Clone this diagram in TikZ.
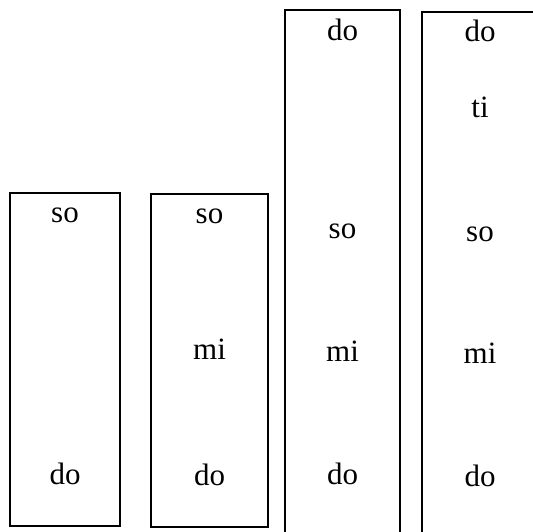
\documentclass[tikz,border=0pt]{standalone}
\usepackage{fontspec}
\setmainfont{Liberation Serif}
\begin{document}
\begin{tikzpicture}[x=1pt,y=-1pt,
  col/.style={draw=black,line width=2pt},
  note/.style={anchor=base,inner sep=0pt,font=\fontsize{31}{36}\selectfont}]
\useasboundingbox (0,0) rectangle (533,531);
\clip (0,0) rectangle (533,531);
% boxes
\draw[col] (10,192.5) rectangle (120,525.5);
\draw[col] (151,194) rectangle (268,527);
\draw[col] (285,9.7) rectangle (400,545);
\draw[col] (422,12.3) rectangle (545,545);
% column 1
\node[note] (a1) at (65,222) {so};
\node[note] (a2) at (65,484) {do};
% column 2
\node[note] (b1) at (209.5,223) {so};
\node[note] (b2) at (209.5,359) {mi};
\node[note] (b3) at (209.5,485) {do};
% column 3
\node[note] (c1) at (342.5,40) {do};
\node[note] (c2) at (342.5,238) {so};
\node[note] (c3) at (342.5,361) {mi};
\node[note] (c4) at (342.5,484) {do};
% column 4
\node[note] (d1) at (480,41) {do};
\node[note] (d2) at (480,117) {ti};
\node[note] (d3) at (480,241) {so};
\node[note] (d4) at (480,363) {mi};
\node[note] (d5) at (480,486) {do};
\end{tikzpicture}
\end{document}
